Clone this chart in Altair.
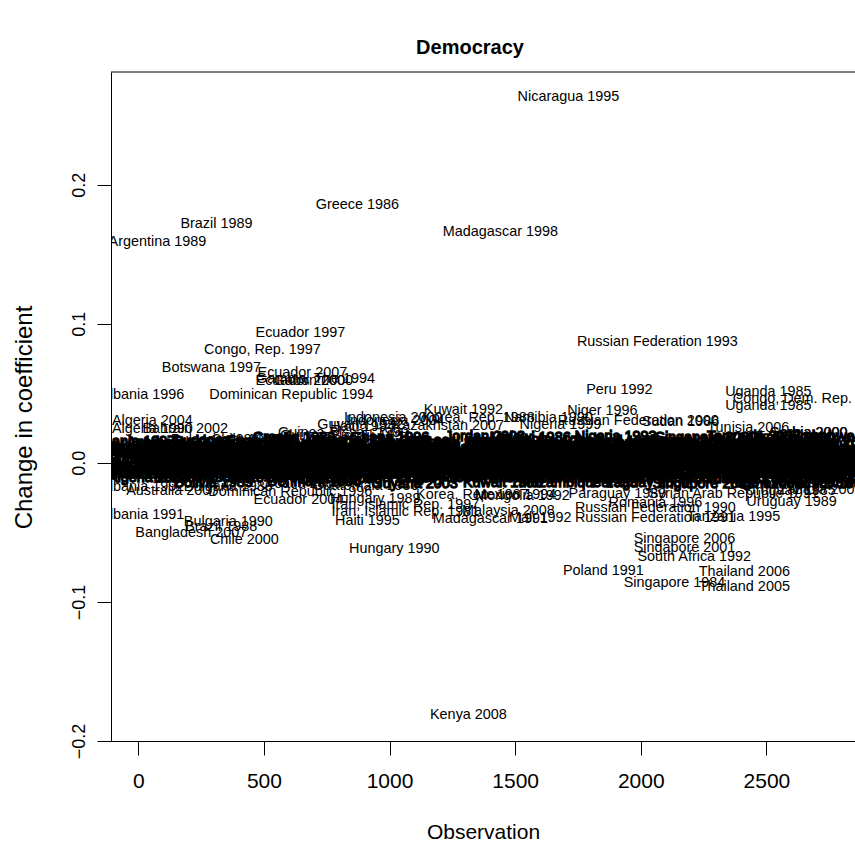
import altair as alt
import pandas as pd

FONT = "Liberation Sans"

# Labelled observations that stand clear of the central cluster
lab_name = [
    "Nicaragua 1995", "Greece 1986", "Brazil 1989", "Argentina 1989", "Madagascar 1998",
    "Ecuador 1997", "Congo, Rep. 1997", "Russian Federation 1993", "Botswana 1997",
    "Ecuador 2007", "Ecuador 2000", "Gambia, The 1994", "Gabon 2000", "Dominican Republic 1994",
    "Albania 1996", "Peru 1992", "Uganda 1985", "Uganda 1985", "Congo, Dem. Rep. 1997",
    "Kuwait 1992", "Niger 1996", "Indonesia 2000", "Indonesia 2004", "Korea, Rep. 1988",
    "Namibia 1990", "Guyana 1992", "Haiti 1994", "Kazakhstan 2007", "Nigeria 1999",
    "Guinea-Bissau 1999", "Guinea-Bissau 1994", "Russian Federation 2000", "Sudan 1986",
    "Tunisia 2006", "Serbia 2000", "Serbia 2000", "Algeria 2004", "Algeria 1990",
    "Bahrain 2002", "Bulgaria 1991", "Chile 1989", "Chad 1996",
    "Albania 1992", "Australia 2007", "Bulgaria 1986", "Croatia 2000",
    "Dominican Republic 1996", "Ecuador 2004", "Guatemala 1986", "Hungary 1989",
    "Iran, Islamic Rep. 1997", "Iran, Islamic Rep. 1981", "Haiti 1995", "Korea, Rep. 1987",
    "Mexico 1994", "Mongolia 1992", "Malaysia 2008", "Madagascar 1991", "Mali 1992",
    "Paraguay 1989", "Syrian Arab Republic 1991", "Romania 1996", "Russian Federation 1990",
    "Russian Federation 1991", "Tanzania 1995", "Uruguay 1989", "Uruguay 1985", "Zambia 2002",
    "Albania 1991", "Bulgaria 1990", "Brazil 1988", "Bangladesh 2007", "Chile 2000",
    "Hungary 1990", "Singapore 2006", "Singapore 2001", "South Africa 1992", "Poland 1991",
    "Thailand 2006", "Singapore 1984", "Thailand 2005", "Kenya 2008",
]
lab_obs = [
    1712, 872, 311, 76, 1441,
    645, 494, 2066, 291,
    653, 645, 705, 697, 609,
    16, 1915, 2508, 2508, 2675,
    1294, 1847, 1015, 1023, 1354,
    1632, 884, 892, 1234, 1680,
    816, 824, 1990, 2158,
    2428, 2667, 2669, 56, 56,
    187, 307, 426, 494,
    16, 135, 358, 645,
    605, 637, 904, 943,
    1063, 1063, 912, 1330,
    1501, 1529, 1473, 1401, 1600,
    1907, 2369, 2058, 2058,
    2058, 2369, 2600, 2596, 2715,
    16, 358, 330, 211, 422,
    1019, 2174, 2174, 2213, 1851,
    2412, 2134, 2412, 1314,
]
lab_val = [
    0.2629, 0.1853, 0.1717, 0.1588, 0.1660,
    0.0934, 0.0812, 0.0869, 0.0683,
    0.0647, 0.0589, 0.0603, 0.0589, 0.0489,
    0.0489, 0.0524, 0.0510, 0.0409, 0.0460,
    0.0381, 0.0374, 0.0323, 0.0302, 0.0323,
    0.0323, 0.0273, 0.0259, 0.0266, 0.0273,
    0.0216, 0.0194, 0.0302, 0.0295,
    0.0251, 0.0216, 0.0217, 0.0302, 0.0244,
    0.0244, 0.0165, 0.0165, 0.0158,
    -0.0172, -0.0201, -0.0172, -0.0151,
    -0.0208, -0.0266, -0.0165, -0.0259,
    -0.0302, -0.0352, -0.0417, -0.0230,
    -0.0230, -0.0237, -0.0345, -0.0402, -0.0395,
    -0.0223, -0.0223, -0.0287, -0.0323,
    -0.0395, -0.0388, -0.0280, -0.0201, -0.0194,
    -0.0374, -0.0424, -0.0460, -0.0503, -0.0553,
    -0.0618, -0.0546, -0.0611, -0.0675, -0.0776,
    -0.0783, -0.0862, -0.0891, -0.1810,
]

# The dense cluster of small changes around zero
band_obs = [
    -45, 70, 185, 300, 418, 530, 648, 760, 880, 995, 1110, 1228, 1340, 1455, 1572, 1690, 1800,
    1918, 2035, 2148, 2265, 2380, 2498, 2610, 2728, 2835,
    10, 125, 240, 358, 472, 590, 703, 820, 935, 1050, 1168, 1282, 1398, 1512, 1630, 1745, 1860,
    1975, 2090, 2208, 2322, 2438, 2552, 2668, 2785,
    -30, 88, 205, 318, 436, 550, 665, 782, 898, 1012, 1130, 1245, 1360, 1475, 1592, 1708, 1822,
    1940, 2055, 2170, 2288, 2402, 2518, 2632, 2750, 2850,
    30, 145, 262, 378, 492, 608, 725, 840, 955, 1072, 1188, 1302, 1418, 1535, 1650, 1765, 1882,
    1998, 2112, 2228, 2345, 2460, 2575, 2690, 2805,
    -60, 55, 170, 285, 402, 515, 632, 748, 862, 978, 1095, 1210, 1325, 1442, 1558, 1672, 1790,
    1905, 2020, 2138, 2252, 2368, 2485, 2600, 2715, 2830,
    0, 112, 228, 345, 460, 575, 692, 808, 922, 1038, 1155, 1270, 1385, 1500, 1618, 1732, 1848,
    1965, 2080, 2195, 2312, 2428, 2542, 2658, 2772,
    -40, 78, 195, 310, 425, 542, 658, 772, 888, 1005, 1120, 1235, 1352, 1468, 1582, 1698, 1815,
    1930, 2045, 2160, 2278, 2392, 2508, 2625, 2740, 2845,
    20, 135, 250, 368, 482, 598, 712, 828, 945, 1060, 1175, 1292, 1408, 1522, 1638, 1755, 1870,
    1985, 2102, 2218, 2332, 2448, 2565, 2680, 2795,
    -20, 160, 380, 560, 740, 930, 1100, 1280, 1470, 1650, 1830, 2010, 2190, 2370, 2550, 2730,
    620, 1000, 1380, 1560, 1900, 2260, 2450, 2600, 2790,
    40, 230, 420, 610, 800, 990, 1180, 1370, 1560, 1750, 1940, 2130, 2320, 2510, 2700,
    300, 700, 1100, 1450, 1750, 2000, 2250, 2480, 2650, 2820,
]
band_val = [
    0.0112, 0.0105, 0.0118, 0.0109, 0.0114, 0.0102, 0.0120, 0.0111, 0.0107, 0.0116, 0.0110,
    0.0121, 0.0104, 0.0113, 0.0108, 0.0119, 0.0111, 0.0106, 0.0117, 0.0112, 0.0109, 0.0122,
    0.0114, 0.0107, 0.0118, 0.0110,
    0.0084, 0.0079, 0.0088, 0.0080, 0.0086, 0.0077, 0.0083, 0.0090, 0.0078, 0.0085, 0.0081,
    0.0087, 0.0076, 0.0084, 0.0089, 0.0080, 0.0083, 0.0078, 0.0086, 0.0082, 0.0088, 0.0079,
    0.0085, 0.0081, 0.0087,
    0.0056, 0.0052, 0.0059, 0.0054, 0.0050, 0.0058, 0.0055, 0.0061, 0.0053, 0.0057, 0.0051,
    0.0056, 0.0060, 0.0054, 0.0058, 0.0052, 0.0055, 0.0059, 0.0053, 0.0057, 0.0050, 0.0056,
    0.0061, 0.0054, 0.0058, 0.0055,
    0.0029, 0.0025, 0.0032, 0.0027, 0.0030, 0.0024, 0.0031, 0.0028, 0.0033, 0.0026, 0.0029,
    0.0023, 0.0030, 0.0027, 0.0032, 0.0025, 0.0028, 0.0031, 0.0026, 0.0029, 0.0033, 0.0027,
    0.0024, 0.0030, 0.0028,
    0.0001, -0.0003, 0.0004, -0.0001, 0.0002, -0.0004, 0.0003, 0.0000, -0.0002, 0.0005,
    -0.0001, 0.0002, -0.0003, 0.0001, 0.0004, -0.0002, 0.0000, 0.0003, -0.0004, 0.0002,
    -0.0001, 0.0004, 0.0000, -0.0003, 0.0002, 0.0001,
    -0.0026, -0.0030, -0.0023, -0.0028, -0.0025, -0.0031, -0.0024, -0.0029, -0.0022, -0.0027,
    -0.0032, -0.0025, -0.0028, -0.0023, -0.0030, -0.0026, -0.0029, -0.0024, -0.0031, -0.0027,
    -0.0025, -0.0030, -0.0023, -0.0028, -0.0026,
    -0.0053, -0.0057, -0.0050, -0.0055, -0.0052, -0.0058, -0.0051, -0.0056, -0.0054, -0.0049,
    -0.0057, -0.0053, -0.0059, -0.0052, -0.0055, -0.0050, -0.0056, -0.0054, -0.0058, -0.0051,
    -0.0055, -0.0053, -0.0057, -0.0050, -0.0054, -0.0056,
    -0.0077, -0.0081, -0.0074, -0.0079, -0.0083, -0.0076, -0.0080, -0.0075, -0.0082, -0.0078,
    -0.0073, -0.0080, -0.0077, -0.0084, -0.0076, -0.0079, -0.0081, -0.0075, -0.0078, -0.0082,
    -0.0076, -0.0080, -0.0074, -0.0079, -0.0083,
    0.0147, 0.0141, 0.0150, 0.0144, 0.0139, 0.0152, 0.0146, 0.0142, 0.0149, 0.0145, 0.0151,
    0.0140, 0.0148, 0.0143, 0.0150, 0.0146,
    0.0182, 0.0176, 0.0185, 0.0179, 0.0188, 0.0177, 0.0184, 0.0180, 0.0186,
    -0.0106, -0.0111, -0.0104, -0.0109, -0.0113, -0.0107, -0.0110, -0.0105, -0.0112, -0.0108,
    -0.0103, -0.0111, -0.0107, -0.0114, -0.0109,
    -0.0146, -0.0141, -0.0150, -0.0144, -0.0148, -0.0142, -0.0151, -0.0145, -0.0149, -0.0143,
]

# Countries in observation order, used to name the clustered observations
countries = [
    "Albania", "Algeria", "Angola", "Argentina", "Armenia", "Australia", "Austria", "Azerbaijan",
    "Bahrain", "Bangladesh", "Belarus", "Belgium", "Benin", "Bolivia", "Botswana", "Brazil",
    "Bulgaria", "Burkina Faso", "Burundi", "Cameroon", "Canada", "Chad", "Chile", "China",
    "Colombia", "Congo, Rep.", "Costa Rica", "Cote d'Ivoire", "Croatia", "Cyprus",
    "Czech Republic", "Denmark", "Dominican Republic", "Ecuador", "Egypt, Arab Rep.",
    "El Salvador", "Estonia", "Ethiopia", "Fiji", "Finland", "France", "Gabon", "Gambia, The",
    "Georgia", "Germany", "Ghana", "Greece", "Guatemala", "Guinea", "Guinea-Bissau", "Guyana",
    "Haiti", "Honduras", "Hungary", "India", "Indonesia", "Iran, Islamic Rep.", "Ireland",
    "Israel", "Italy", "Jamaica", "Japan", "Jordan", "Kazakhstan", "Kenya", "Korea, Rep.",
    "Kuwait", "Latvia", "Lesotho", "Lithuania", "Madagascar", "Malawi", "Malaysia", "Mali",
    "Mauritania", "Mexico", "Moldova", "Mongolia", "Morocco", "Mozambique", "Namibia", "Nepal",
    "Netherlands", "New Zealand", "Nicaragua", "Niger", "Nigeria", "Norway", "Pakistan",
    "Panama", "Papua New Guinea", "Paraguay", "Peru", "Philippines", "Poland", "Portugal",
    "Romania", "Russian Federation", "Rwanda", "Senegal", "Serbia", "Sierra Leone", "Singapore",
    "Slovak Republic", "South Africa", "Spain", "Sri Lanka", "Sudan", "Swaziland", "Sweden",
    "Syrian Arab Republic", "Tanzania", "Thailand", "Togo", "Trinidad and Tobago", "Tunisia",
    "Turkey", "Uganda", "Ukraine", "Uruguay", "Venezuela, RB", "Vietnam", "Yemen, Rep.",
    "Zambia", "Zimbabwe",
]
years = [1985, 1986, 1987, 1988, 1989, 1990, 1991, 1992, 1993, 1994, 1995, 1996, 1997,
         1998, 1999, 2000, 2001, 2002, 2003, 2004, 2005, 2006, 2007, 2008]
n_obs = 2743

band_lbl = []
for k, o in enumerate(band_obs):
    idx = min(max(int(o / n_obs * len(countries)), 0), len(countries) - 1)
    band_lbl.append(f"{countries[idx]} {years[(k * 7) % len(years)]}")

band_df = pd.DataFrame({"obs": band_obs, "val": band_val, "label": band_lbl})
lab_df = pd.DataFrame({"obs": lab_obs, "val": lab_val, "label": lab_name})

x_scale = alt.Scale(domain=[-108.7, 2852.7], nice=False, zero=False)
y_scale = alt.Scale(domain=[-0.2, 0.281], nice=False, zero=False)

x_enc = alt.X("obs:Q", scale=x_scale, axis=alt.Axis(
    values=[0, 500, 1000, 1500, 2000, 2500], format="d", title="Observation",
    tickSize=14, labelPadding=26, labelBaseline="middle", labelFontSize=21,
    titleFontSize=21, titleY=91, titleBaseline="middle",
))
y_enc = alt.Y("val:Q", scale=y_scale, axis=alt.Axis(
    values=[-0.2, -0.1, 0.0, 0.1, 0.2], format=".1f", title="Change in coefficient",
    tickSize=14, labelAngle=270, labelAlign="center", labelBaseline="middle",
    labelPadding=18, labelFontSize=18, titleFontSize=24, titleX=-87, titleY=345,
    titleBaseline="middle", titleAlign="center",
))

text_style = dict(font=FONT, fontSize=14.4, color="black", clip=True,
                  align="center", baseline="middle")

# heavily overplotted labels near zero merge into a solid black band
band = alt.Chart(band_df).mark_text(stroke="black", strokeWidth=1.4, **text_style).encode(
    x=x_enc, y=y_enc, text="label:N"
)
labels = alt.Chart(lab_df).mark_text(**text_style).encode(
    x=x_enc, y=y_enc, text="label:N"
)

# top edge of the plot frame
frame_top = alt.Chart(pd.DataFrame({"k": [0]})).mark_rule(color="black", strokeWidth=1).encode(
    x=alt.value(0), x2=alt.value(744), y=alt.value(0)
)

chart = alt.layer(band, labels, frame_top).properties(
    width=744, height=669,
    title=alt.TitleParams(
        text="Democracy", font=FONT, fontSize=20, fontWeight="bold", color="black",
        anchor="middle", frame="group", dx=-13, dy=21, offset=25, baseline="middle",
    ),
    autosize=alt.AutoSizeParams(type="none"),
    padding={"left": 111, "top": 72, "right": 0, "bottom": 104},
).configure(
    background="white"
).configure_view(stroke=None).configure_axis(
    domainColor="black", tickColor="black", labelColor="black", titleColor="black",
    labelFont=FONT, titleFont=FONT, titleFontWeight="normal", grid=False,
    domainWidth=1, tickWidth=1,
)

chart.save("out.html", embed_options={"renderer": "svg", "actions": False})
